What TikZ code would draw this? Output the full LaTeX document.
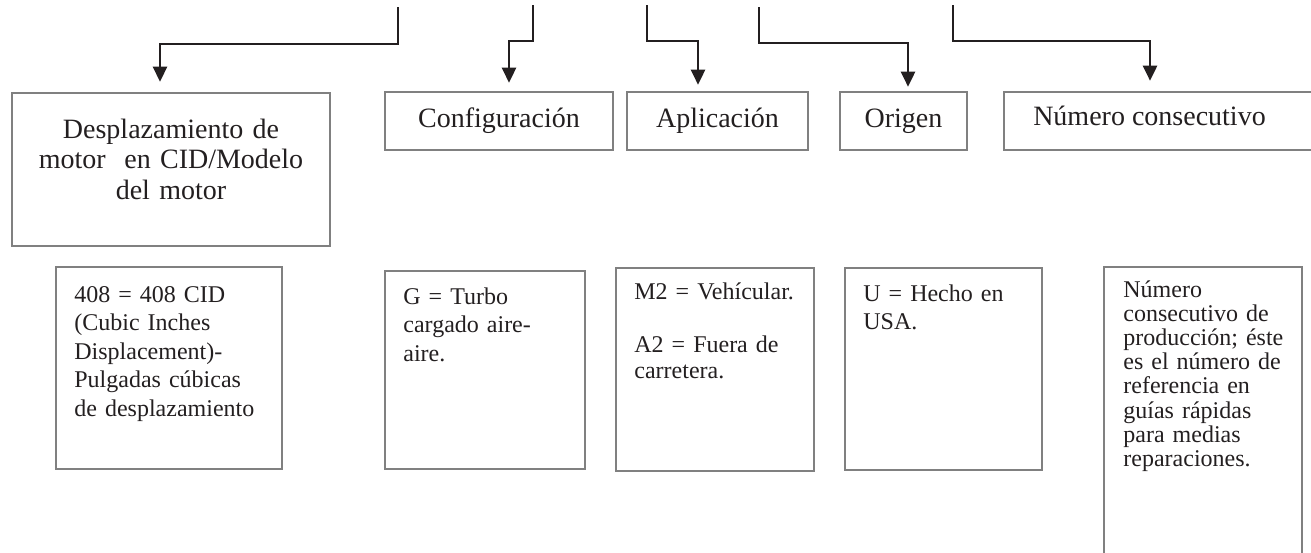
\documentclass[tikz,border=0pt]{standalone}
\usepackage{fontspec}
\setmainfont{Liberation Serif}
\usetikzlibrary{arrows.meta}
\definecolor{borde}{RGB}{128,128,128}
\definecolor{tinta}{RGB}{35,31,32}

\begin{document}
\begin{tikzpicture}[x=0.5pt,y=-0.5pt,
    caja/.style={draw=borde, line width=1.3pt, rectangle, inner sep=0pt},
    titulo/.style={font=\fontsize{14}{15.3}\selectfont, text=tinta},
    texto/.style={font=\fontsize{12}{14.3}\selectfont, text=tinta, anchor=base west, align=left, text width=120pt, inner sep=0pt},
    flecha/.style={draw=tinta, line width=1.3pt, -{Triangle[width=7pt,length=7.5pt]}}]
        % Area visible (la ultima caja queda cortada)
        \useasboundingbox (0,0) rectangle (1311,552);
        \clip (0,0) rectangle (1311,552);

        % Cajas superiores
        \node[caja, minimum width=159pt, minimum height=76.5pt] (desp) at (171,169.5) {};
        \node[titulo, align=center, text width=150pt, anchor=base, inner sep=0pt] (despT) at (171,138) {Desplazamiento de\\ motor~ en CID/Modelo\\ del motor};
        \node[caja, titulo, minimum width=114pt, minimum height=29pt] (conf) at (499,121) {Configuración};
        \node[caja, titulo, minimum width=90.5pt, minimum height=29pt] (apli) at (717.5,121) {Aplicación};
        \node[caja, titulo, minimum width=63.5pt, minimum height=29pt] (orig) at (903.5,121) {Origen};
        \node[caja, minimum width=156pt, minimum height=29pt] (nume) at (1160,121) {};
        \node[titulo, anchor=base, inner sep=0pt] (numeT) at (1149.5,125) {Número consecutivo};

        % Puntos de salida de las flechas
        \coordinate (s1) at (398,7);
        \coordinate (s2) at (533,5);
        \coordinate (s3) at (647,5);
        \coordinate (s4) at (759,7);
        \coordinate (s5) at (953,5);

        % Flechas hacia cada caja
        \draw[flecha, shorten >=5pt] (s1) -- ++(0,37) -| ([xshift=-5.5pt]desp.north);
        \draw[flecha, shorten >=4pt] (s2) -- ++(0,36) -| ([xshift=5pt]conf.north);
        \draw[flecha, shorten >=3pt] (s3) -- ++(0,36) -| ([xshift=-9.75pt]apli.north);
        \draw[flecha, shorten >=2pt] (s4) -- ++(0,36) -| ([xshift=2.25pt]orig.north);
        \draw[flecha, shorten >=5pt] (s5) -- ++(0,36) -| ([xshift=-5pt]nume.north);

        % Cajas inferiores con la descripcion
        \node[caja, minimum width=113pt, minimum height=101pt] (cid) at (169,368) {};
        \node[texto] (cidT) at (74,302) {408 = 408 CID\\ (Cubic Inches\\ Displacement)-\\ Pulgadas cúbicas\\ de desplazamiento};

        \node[caja, minimum width=100pt, minimum height=99pt] (turbo) at (485,370) {};
        \node[texto] (turboT) at (403,304) {G = Turbo\\ cargado aire-\\ aire.};

        \node[caja, minimum width=99pt, minimum height=101.5pt] (uso) at (715,369.5) {};
        \node[texto, font=\fontsize{12}{13.3}\selectfont] (usoT) at (634,299) {M2 = Vehícular.\\[13.3pt] A2 = Fuera de\\ carretera.};

        \node[caja, minimum width=98.5pt, minimum height=101pt] (hecho) at (943.5,369) {};
        \node[texto] (hechoT) at (863,301) {U = Hecho en\\ USA.};

        \node[caja, minimum width=99pt, minimum height=156.5pt] (serie) at (1203,423.5) {};
        \node[texto, font=\fontsize{12}{12.1}\selectfont] (serieT) at (1123,297) {Número\\ consecutivo de\\ producción; éste\\ es el número de\\ referencia en\\ guías rápidas\\ para medias\\ reparaciones.};
    \end{tikzpicture}
\end{document}
